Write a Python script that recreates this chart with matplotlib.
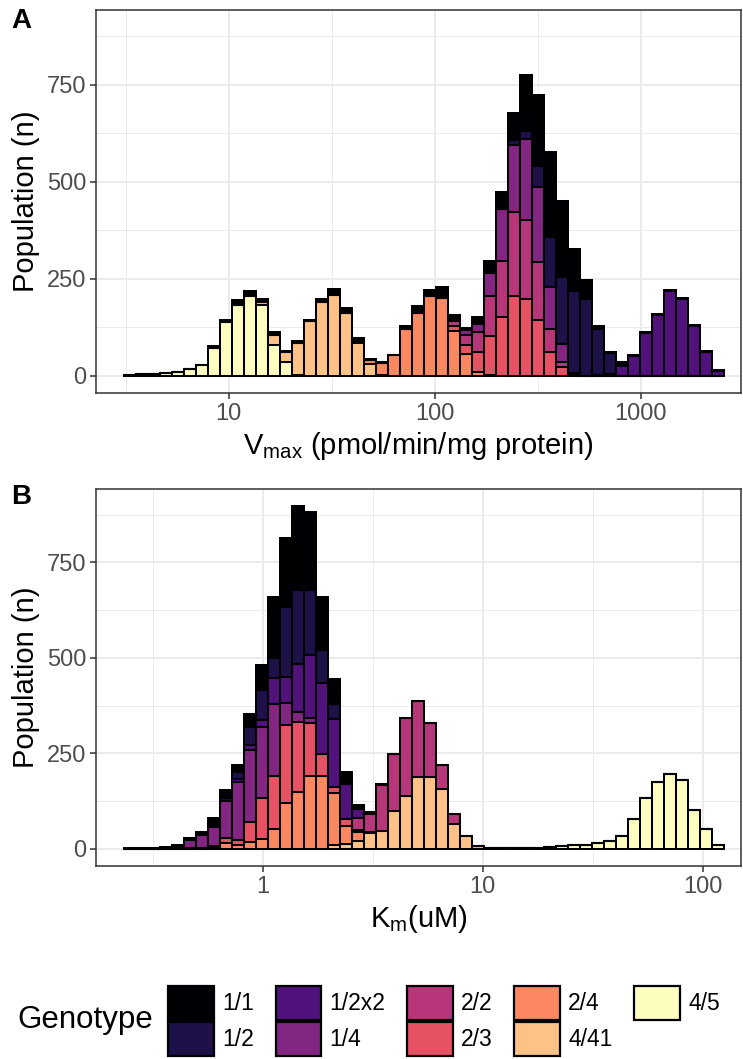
import numpy as np
import matplotlib
matplotlib.use("Agg")
import matplotlib.pyplot as plt
from matplotlib.patches import Patch

plt.rcParams['font.family'] = ['Liberation Sans', 'DejaVu Sans']

genotypes = ['1/1', '1/2', '1/2x2', '1/4', '2/2', '2/3', '2/4', '4/41', '4/5']
colors = ['#000004', '#1D1147', '#51127C', '#822681', '#B63679',
          '#E65164', '#FB8861', '#FEC287', '#FCFDBF']

NBINS = 50
# log10 range covered by the bins
vmax_range = (0.4918, 3.4044)
km_range = (-0.6305, 2.0968)


def spread(start, vals):
    out = [0] * NBINS
    out[start:start + len(vals)] = vals
    return out


# ---- panel A : Vmax counts per bin, one list per genotype ----
a_11 = spread(7, [3, 4, 13, 12, 8, 8, 4, 3, 4, 7, 14, 14, 8, 3, 3, 2, 8, 18, 15, 27,
                  10, 5, 19, 30, 45, 71, 144, 182, 219, 198, 110, 47, 9, 4, 8, 3,
                  2, 2, 2, 2, 2, 2, 2])
a_12 = spread(32, [13, 21, 56, 129, 172, 210, 198, 118, 52, 3])
a_12x2 = spread(39, [2, 5, 24, 50, 110, 157, 218, 198, 128, 61, 13])
a_14 = spread(27, [6, 12, 20, 60, 133, 172, 210, 193, 107, 47, 3])
a_22 = spread(27, [12, 25, 52, 103, 146, 215, 202, 150, 60, 13, 2])
a_23 = spread(27, [12, 25, 52, 99, 150, 206, 198, 142, 60, 21, 2])
a_24 = spread(19, [3, 10, 30, 52, 120, 162, 205, 200, 116, 55, 8, 2])
a_441 = spread(11, [8, 25, 26, 83, 140, 190, 208, 160, 85, 30, 2])
a_45 = spread(0, [1, 3, 5, 6, 8, 17, 28, 72, 138, 183, 205, 182, 80, 34, 2])

# ---- panel B : Km counts per bin ----
b_11 = spread(0, [1, 1, 1, 2, 4, 6, 10, 22, 23, 19, 32, 67, 159, 182, 219, 205,
                  137, 65, 28, 9, 2, 2])
b_12 = spread(8, [8, 17, 48, 78, 52, 182, 195, 169, 87, 39, 5, 2])
b_12x2 = spread(9, [10, 13, 17, 69, 69, 126, 165, 186, 178, 91, 25, 3])
b_14 = spread(3, [2, 6, 20, 32, 50, 95, 150, 190, 186, 187, 56, 26, 13])
b_22 = spread(19, [30, 49, 121, 148, 204, 197, 141, 63, 25])
b_23 = spread(5, [2, 3, 5, 15, 13, 52, 108, 139, 204, 182, 139, 56, 17, 17, 5])
b_24 = spread(7, [3, 14, 11, 17, 26, 52, 121, 149, 191, 192, 136, 48, 25, 2])
b_441 = spread(17, [10, 13, 20, 41, 46, 100, 139, 189, 189, 156, 66, 33, 7])
b_45 = spread(30, [1, 1, 1, 2, 3, 5, 7, 9, 11, 15, 20, 33, 78, 132, 176, 196,
                   180, 102, 52, 9])

vmax_counts = [a_11, a_12, a_12x2, a_14, a_22, a_23, a_24, a_441, a_45]
km_counts = [b_11, b_12, b_12x2, b_14, b_22, b_23, b_24, b_441, b_45]

W, H = 743, 1059
fig = plt.figure(figsize=(W / 100, H / 100), dpi=100)


def frac(left, top, right, bottom):
    return [left / W, 1 - bottom / H, (right - left) / W, (bottom - top) / H]


def stacked_hist(ax, counts, lrange, xlim, majors, minors):
    edges = 10 ** np.linspace(lrange[0], lrange[1], NBINS + 1)
    bottom = np.zeros(NBINS)
    # ggplot stacks the first level on top, so draw from the last one up
    for vals, col in zip(counts[::-1], colors[::-1]):
        vals = np.array(vals, dtype=float)
        ax.bar(edges[:-1], vals, width=np.diff(edges), bottom=bottom, align='edge',
               color=col, edgecolor='black', linewidth=1.45, zorder=3)
        bottom += vals
    ax.set_xscale('log')
    ax.set_xlim(10 ** xlim[0], 10 ** xlim[1])
    ax.set_ylim(-44.9, 942)
    ax.set_xticks(majors)
    ax.set_xticklabels([str(m) for m in majors])
    ax.set_xticks(minors, minor=True)
    ax.set_yticks([0, 250, 500, 750])
    ax.set_yticks([125, 375, 625, 875], minor=True)
    ax.grid(which='major', color='#EBEBEB', linewidth=1.4, zorder=0)
    ax.grid(which='minor', color='#EBEBEB', linewidth=0.7, zorder=0)
    ax.set_axisbelow(True)
    ax.tick_params(which='major', length=4, width=1.1, color='#333333',
                   labelsize=17, labelcolor='#4D4D4D', pad=3)
    ax.tick_params(which='minor', length=0)
    for s in ax.spines.values():
        s.set_color('#333333')
        s.set_linewidth(1.1)
    ax.set_ylabel('Population (n)', fontsize=21, labelpad=5)


axA = fig.add_axes(frac(96, 10, 741, 393))
stacked_hist(axA, vmax_counts, vmax_range, (0.3558, 3.487),
             [10, 100, 1000], [10 ** 0.5, 10 ** 1.5, 10 ** 2.5])
axA.set_xlabel(r'$\mathregular{V_{max}}$ (pmol/min/mg protein)', fontsize=21, labelpad=4)

axB = fig.add_axes(frac(96, 489, 741, 866))
stacked_hist(axB, km_counts, km_range, (-0.7577, 2.174),
             [1, 10, 100], [10 ** -0.5, 10 ** 0.5, 10 ** 1.5])
axB.set_xlabel(r'$\mathregular{K_{m}}$(uM)', fontsize=21, labelpad=4)

fig.text(11 / W, 1 - 21 / H, 'A', fontsize=20, fontweight='bold', va='center')
fig.text(11 / W, 1 - 497 / H, 'B', fontsize=20, fontweight='bold', va='center')

handles = [Patch(facecolor=c, edgecolor='black', linewidth=1.6) for c in colors]
fig.legend(handles, genotypes, ncol=5, loc='center left',
           bbox_to_anchor=(168 / W, 1 - 1021 / H), frameon=False, fontsize=16.5,
           handlelength=2.0, handleheight=1.95, labelspacing=0.05,
           handletextpad=0.35, columnspacing=0.95, borderpad=0, borderaxespad=0)
fig.text(17 / W, 1 - 1020 / H, 'Genotype', fontsize=22.5, va='center')

fig.savefig('out.png', dpi=100)
